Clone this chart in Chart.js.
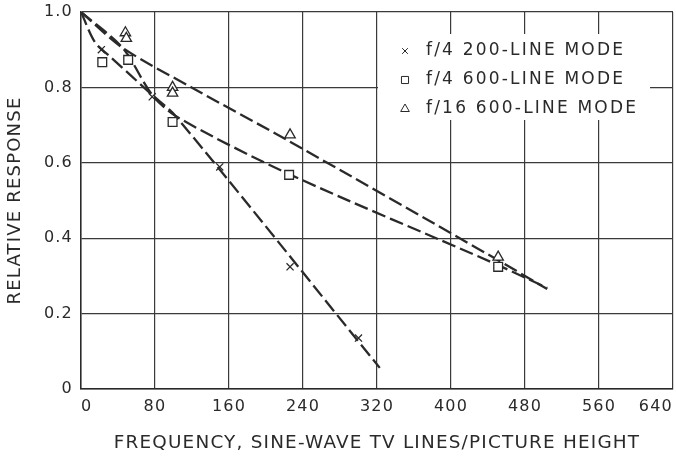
<!DOCTYPE html>
<html>
<head>
<meta charset="utf-8">
<script src="https://cdn.jsdelivr.net/npm/chart.js@4.4.1/dist/chart.umd.min.js"></script>
<style>
  html, body { margin: 0; padding: 0; background: #fff; }
  #wrap { width: 676px; height: 456px; }
</style>
</head>
<body>
<div id="wrap"><canvas id="mtfChart"></canvas></div>
<script>
const seriesNames = ['f/4 200-LINE MODE', 'f/4 600-LINE MODE', 'f/16 600-LINE MODE'];

const freq200 = [22, 77, 150, 226, 300];
const resp200 = [0.90, 0.775, 0.589, 0.324, 0.135];
const freq600 = [23, 51, 99, 225, 451];
const resp600 = [0.867, 0.873, 0.708, 0.568, 0.324];
const freq16 = [48, 49, 99, 99, 226, 451];
const resp16 = [0.945, 0.93, 0.80, 0.785, 0.674, 0.35];

// hand-drawn fitted curves
const fitFreq200 = [0, 15, 30, 77, 102, 323];
const fitResp200 = [1.0, 0.92, 0.885, 0.78, 0.725, 0.056];
const fitFreq600 = [0, 45, 77, 105, 225, 445, 504];
const fitResp600 = [1.0, 0.905, 0.78, 0.72, 0.57, 0.335, 0.268];
const fitFreq16 = [0, 45, 121, 223, 445, 504];
const fitResp16 = [1.0, 0.905, 0.798, 0.66, 0.35, 0.265];

const xTicks = [0, 80, 160, 240, 320, 400, 480, 560, 640];
const yTicks = [0, 0.2, 0.4, 0.6, 0.8, 1.0];
const yTickLabels = ['0', '0.2', '0.4', '0.6', '0.8', '1.0'];

const ink = '#2a2a2a';
const fontFamily = '"DejaVu Sans", sans-serif';

function pts(xs, ys) {
    return xs.map((x, i) => ({ x: x, y: ys[i] }));
}

function markDataset(label, xs, ys, style, radius) {
    return {
        label: label,
        data: pts(xs, ys),
        showLine: false,
        pointStyle: style,
        pointRadius: radius,
        pointBorderWidth: 1.3,
        pointBorderColor: ink,
        pointBackgroundColor: '#fff'
    };
}

function fitDataset(xs, ys) {
    return {
        label: 'fit',
        data: pts(xs, ys),
        showLine: true,
        pointRadius: 0,
        borderColor: ink,
        borderWidth: 2.3,
        borderDash: [14, 5],
        tension: 0.3
    };
}

const markStyles = ['crossRot', 'rect', 'triangle'];
const markRadius = [5, 6.2, 6];

// the lettering on the original is wide, widen all text a little
const wideText = {
    id: 'wideText',
    beforeDraw(chart) { chart.ctx.letterSpacing = '1.2px'; },
    afterDraw(chart) { chart.ctx.letterSpacing = '0px'; }
};

// legend inside the plot, on a white patch over the grid
const insetLegend = {
    id: 'insetLegend',
    beforeDatasetsDraw(chart) {
        const ctx = chart.ctx;
        ctx.save();
        ctx.fillStyle = '#fff';
        ctx.fillRect(378, 34, 272, 86);
        ctx.font = '17px ' + fontFamily;
        ctx.letterSpacing = '2.2px';
        ctx.textBaseline = 'middle';
        const rows = [51, 80, 109];
        seriesNames.forEach((name, i) => {
            ctx.fillStyle = '#fff';
            ctx.strokeStyle = ink;
            Chart.helpers.drawPoint(ctx, {
                pointStyle: markStyles[i],
                radius: i === 0 ? 4 : 5,
                borderWidth: 1.2
            }, 405, rows[i]);
            ctx.fillStyle = ink;
            ctx.fillText(name, 426, rows[i]);
        });
        ctx.restore();
    }
};

new Chart(document.getElementById('mtfChart'), {
    type: 'scatter',
    data: {
        datasets: [
            markDataset(seriesNames[0], freq200, resp200, markStyles[0], markRadius[0]),
            markDataset(seriesNames[1], freq600, resp600, markStyles[1], markRadius[1]),
            markDataset(seriesNames[2], freq16, resp16, markStyles[2], markRadius[2]),
            fitDataset(fitFreq200, fitResp200),
            fitDataset(fitFreq600, fitResp600),
            fitDataset(fitFreq16, fitResp16)
        ]
    },
    options: {
        responsive: true,
        maintainAspectRatio: false,
        animation: false,
        layout: { autoPadding: false, padding: { left: 0, right: 3, top: 12, bottom: 0 } },
        plugins: {
            legend: { display: false },
            tooltip: { enabled: false }
        },
        scales: {
            x: {
                type: 'linear',
                min: 0,
                max: 640,
                afterBuildTicks: (scale) => { scale.ticks = xTicks.map(v => ({ value: v })); },
                afterFit: (scale) => { scale.height = 67; scale.paddingLeft = 0; scale.paddingRight = 0; },
                border: { color: ink, width: 1.5 },
                grid: { color: '#3a3a3a', lineWidth: 1.2, drawTicks: false },
                ticks: { color: ink, padding: 8, align: 'inner', font: { family: fontFamily, size: 16 }, maxRotation: 0 },
                title: {
                    display: true,
                    text: 'FREQUENCY, SINE-WAVE TV LINES/PICTURE HEIGHT',
                    color: ink,
                    font: { family: fontFamily, size: 18.4 },
                    padding: { top: 0, bottom: 2 }
                }
            },
            y: {
                type: 'linear',
                min: 0,
                max: 1,
                afterBuildTicks: (scale) => { scale.ticks = yTicks.map(v => ({ value: v })); },
                afterFit: (scale) => { scale.width = 81; scale.paddingTop = 0; scale.paddingBottom = 0; },
                border: { color: ink, width: 1.5 },
                grid: { color: '#3a3a3a', lineWidth: 1.2, drawTicks: false },
                ticks: {
                    color: ink,
                    padding: 8,
                    font: { family: fontFamily, size: 16 },
                    callback: (v) => yTickLabels[yTicks.indexOf(Math.round(v * 10) / 10)]
                },
                title: {
                    display: true,
                    text: 'RELATIVE RESPONSE',
                    color: ink,
                    font: { family: fontFamily, size: 18 },
                    padding: { top: 5, bottom: 0 }
                }
            }
        }
    },
    plugins: [wideText, insetLegend]
});
</script>
</body>
</html>
